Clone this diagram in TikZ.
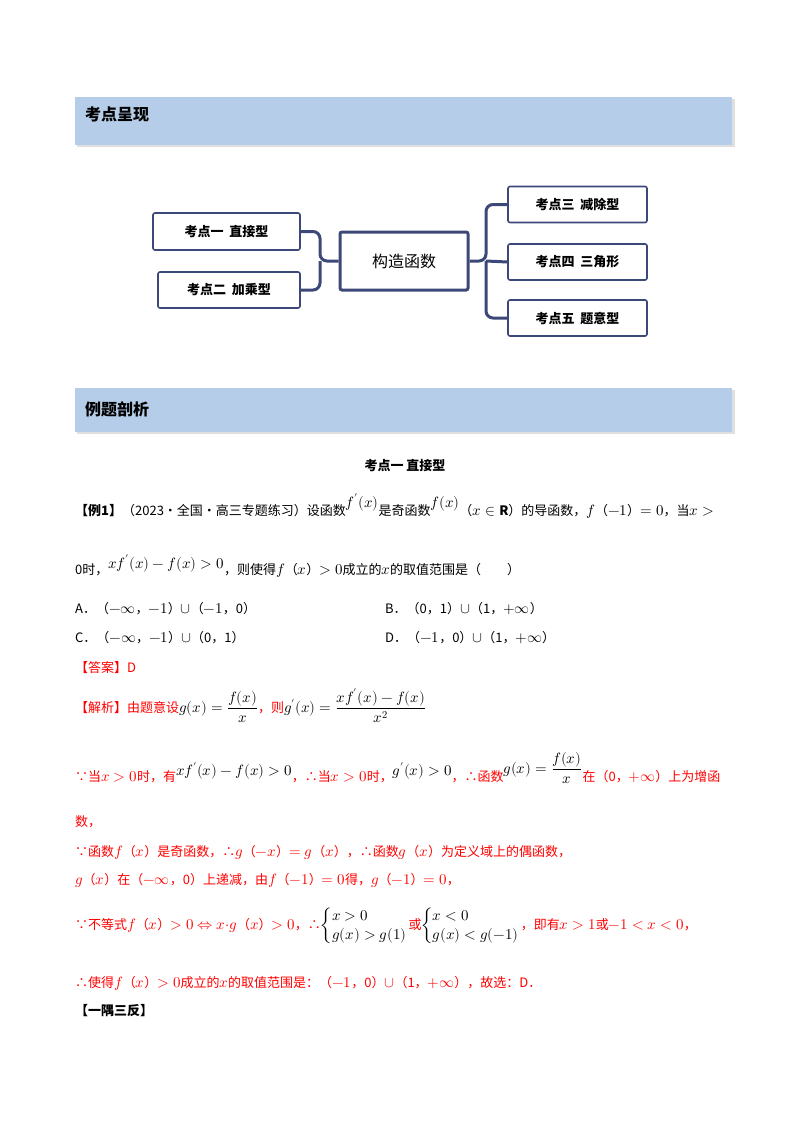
\documentclass[tikz,border=0pt]{standalone}
\usepackage{amsmath}
\usepackage{fontspec}
\usepackage{unicode-math}
\setmainfont{Noto Sans CJK SC}
\setmathfont{Latin Modern Math}[Scale=1.15]
\begin{document}
\begin{tikzpicture}[x=1pt,y=-1pt,
  band/.style={fill={rgb,255:red,181;green,205;blue,232},draw=none},
  mbox/.style={draw={rgb,255:red,60;green,72;blue,120},line width=1.6pt,rounded corners=2pt,fill=white,font=\fontsize{13}{15}\selectfont\bfseries,inner sep=0pt},
  conn/.style={draw={rgb,255:red,60;green,72;blue,120},line width=3pt,rounded corners=7pt},
  txt/.style={anchor=west,inner sep=0pt,font=\fontsize{13}{16}\selectfont},
  red/.style={txt,text={rgb,255:red,255;green,0;blue,0}}]
\useasboundingbox (0,0) rectangle (800,1132);
\fill[white] (0,0) rectangle (800,1132);
% bands
\fill[gray!25] (77,99) rectangle (735,147);
\fill[band] (75,97) rectangle (732,145);
\node[txt,font=\fontsize{16}{18}\selectfont\bfseries] (h1) at (85,114) {考点呈现};
\fill[gray!25] (77,390) rectangle (735,434);
\fill[band] (75,388) rectangle (732,432);
\node[txt,font=\fontsize{16}{18}\selectfont\bfseries] (h2) at (85,409) {例题剖析};
% mindmap
\node[mbox,minimum width=128pt,minimum height=58pt,line width=3pt,font=\fontsize{16}{18}\selectfont] (c) at (404,261) {构造函数};
\node[mbox,minimum width=147pt,minimum height=37pt] (l1) at (226.5,231.5) {考点一\ \ 直接型};
\node[mbox,minimum width=142pt,minimum height=36pt] (l2) at (229,290) {考点二\ \ 加乘型};
\node[mbox,minimum width=139pt,minimum height=36pt] (r1) at (577.5,204.5) {考点三\ \ 减除型};
\node[mbox,minimum width=139pt,minimum height=36pt] (r2) at (577.5,262) {考点四\ \ 三角形};
\node[mbox,minimum width=139pt,minimum height=36pt] (r3) at (577.5,318) {考点五\ \ 题意型};
\coordinate (lj) at (320,261);
\coordinate (rj) at (486,261);
\draw[conn] (c.west) -- (lj) |- (l1.east);
\draw[conn] (lj) |- (l2.east);
\draw[conn] (c.east) -- (rj) |- (r1.west);
\draw[conn] (rj) |- (r3.west);
\draw[conn] (rj) -- (r2.west);
% text
\node[txt,anchor=center,font=\fontsize{13}{16}\selectfont\bfseries] (t0) at (405,466) {考点一 直接型};
\node[txt] (t1) at (75,506) {\textbf{【例1】}（2023·全国·高三专题练习）设函数\raisebox{8pt}{$f'(x)$}是奇函数\raisebox{8pt}{$f(x)$}（$x\in\mathbf{R}$）的导函数，$f$（$-1$）$=0$，当$x>$};
\node[txt] (t2) at (75,566) {0时，\raisebox{6pt}{$xf'(x)-f(x)>0$}，则使得$f$（$x$）$>0$成立的$x$的取值范围是（\qquad）};
\node[txt] (a) at (75,609) {A．（$-\infty$，$-1$）$\cup$（$-1$，0）};
\node[txt] (b) at (385,609) {B．（0，1）$\cup$（1，$+\infty$）};
\node[txt] (cc) at (75,638) {C．（$-\infty$，$-1$）$\cup$（0，1）};
\node[txt] (d) at (385,638) {D．（$-1$，0）$\cup$（1，$+\infty$）};
\node[red] (ans) at (75,668) {【答案】D};
\node[red] (s1) at (75,706) {【解析】由题意设\textcolor{black}{$g(x)=\dfrac{f(x)}{x}$}，则\textcolor{black}{$g'(x)=\dfrac{xf'(x)-f(x)}{x^2}$}};
\node[red] (s2) at (75,768) {∵当$x>0$时，有\raisebox{6pt}{\textcolor{black}{$xf'(x)-f(x)>0$}}，∴当$x>0$时，\raisebox{6pt}{\textcolor{black}{$g'(x)>0$}}，∴函数\raisebox{8pt}{\textcolor{black}{$g(x)=\dfrac{f(x)}{x}$}}在（0，$+\infty$）上为增函};
\node[red] (s3) at (75,822) {数，};
\node[red] (s4) at (75,852) {∵函数$f$（$x$）是奇函数，∴$g$（$-x$）$=g$（$x$），∴函数$g$（$x$）为定义域上的偶函数，};
\node[red] (s5) at (75,880) {$g$（$x$）在（$-\infty$，0）上递减，由$f$（$-1$）$=0$得，$g$（$-1$）$=0$，};
\node[red] (s6) at (75,926) {∵不等式$f$（$x$）$>0\Leftrightarrow x{\cdot}g$（$x$）$>0$，∴\textcolor{black}{$\begin{cases}x>0\\ g(x)>g(1)\end{cases}$}\kern-12pt 或\textcolor{black}{$\begin{cases}x<0\\ g(x)<g(-1)\end{cases}$}\kern-12pt ，即有$x>1$或$-1<x<0$，};
\node[red] (s7) at (75,983) {∴使得$f$（$x$）$>0$成立的$x$的取值范围是：（$-1$，0）$\cup$（1，$+\infty$），故选：D．};
\node[txt,font=\fontsize{13}{16}\selectfont\bfseries] (s8) at (75,1011) {【一隅三反】};
\end{tikzpicture}
\end{document}
